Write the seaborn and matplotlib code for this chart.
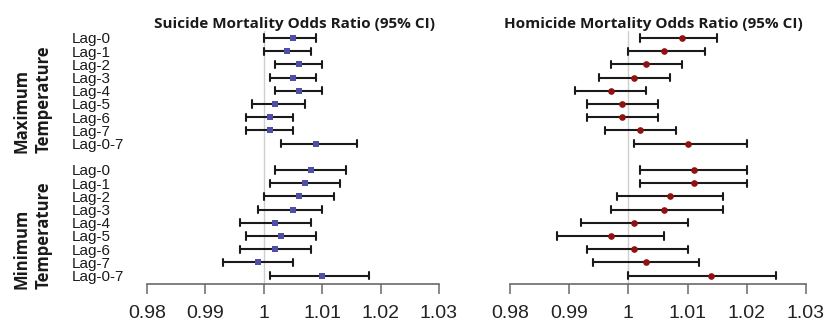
import pandas as pd
import matplotlib
matplotlib.use('Agg')
import matplotlib.pyplot as plt
import seaborn as sns

lags = ['Lag-0', 'Lag-1', 'Lag-2', 'Lag-3', 'Lag-4', 'Lag-5', 'Lag-6', 'Lag-7', 'Lag-0-7']
group_labels = ['Maximum\nTemperature', 'Minimum\nTemperature']
titles = ['Suicide Mortality Odds Ratio (95% CI)', 'Homicide Mortality Odds Ratio (95% CI)']
xticks = [0.98, 0.99, 1.00, 1.01, 1.02, 1.03]
xtick_labels = ['0.98', '0.99', '1', '1.01', '1.02', '1.03']

# odds ratio, lower and upper 95% CI
suicide_max_or = [1.005, 1.004, 1.006, 1.005, 1.006, 1.002, 1.001, 1.001, 1.009]
suicide_max_lo = [1.000, 1.000, 1.002, 1.001, 1.002, 0.998, 0.997, 0.997, 1.003]
suicide_max_hi = [1.009, 1.008, 1.010, 1.009, 1.010, 1.007, 1.005, 1.005, 1.016]
suicide_min_or = [1.008, 1.007, 1.006, 1.005, 1.002, 1.003, 1.002, 0.999, 1.010]
suicide_min_lo = [1.002, 1.001, 1.000, 0.999, 0.996, 0.997, 0.996, 0.993, 1.001]
suicide_min_hi = [1.014, 1.013, 1.012, 1.010, 1.008, 1.009, 1.008, 1.005, 1.018]

homicide_max_or = [1.009, 1.006, 1.003, 1.001, 0.997, 0.999, 0.999, 1.002, 1.010]
homicide_max_lo = [1.002, 1.000, 0.997, 0.995, 0.991, 0.993, 0.993, 0.996, 1.001]
homicide_max_hi = [1.015, 1.013, 1.009, 1.007, 1.003, 1.005, 1.005, 1.008, 1.020]
homicide_min_or = [1.011, 1.011, 1.007, 1.006, 1.001, 0.997, 1.001, 1.003, 1.014]
homicide_min_lo = [1.002, 1.002, 0.998, 0.997, 0.992, 0.988, 0.993, 0.994, 1.000]
homicide_min_hi = [1.020, 1.020, 1.016, 1.016, 1.010, 1.006, 1.010, 1.012, 1.025]

order = ['max ' + l for l in lags] + ['gap'] + ['min ' + l for l in lags]


def long_frame(mx, mn):
    # three values per row (lo, or, hi): median gives the OR, 0-100 pi gives the CI
    rows = []
    for prefix, (est, lo, hi) in zip(['max', 'min'], [mx, mn]):
        for lag, e, l, h in zip(lags, est, lo, hi):
            for v in (l, e, h):
                rows.append({'row': prefix + ' ' + lag, 'OR': v})
    return pd.DataFrame(rows)


suicide = long_frame((suicide_max_or, suicide_max_lo, suicide_max_hi),
                     (suicide_min_or, suicide_min_lo, suicide_min_hi))
homicide = long_frame((homicide_max_or, homicide_max_lo, homicide_max_hi),
                      (homicide_min_or, homicide_min_lo, homicide_min_hi))

sns.set_style('white')
plt.rcParams['font.family'] = ['Liberation Sans', 'DejaVu Sans']

W, H = 828, 323
fig = plt.figure(figsize=(W / 100, H / 100), dpi=100)
top_px, bot_px = 31, 284
ax1 = fig.add_axes([147 / W, (H - bot_px) / H, 292 / W, (bot_px - top_px) / H])
ax2 = fig.add_axes([510 / W, (H - bot_px) / H, 296 / W, (bot_px - top_px) / H])

specs = [(ax1, suicide, 's', '#4f4fa6', 4.4, 0.505), (ax2, homicide, 'o', '#8e1212', 4.8, 0.483)]
for ax, df, mk, col, ms, tx in specs:
    ax.axvline(1.0, color='#cfcfcf', lw=1.0, zorder=0)
    sns.pointplot(data=df, x='OR', y='row', order=order, orient='h',
                  estimator='median', errorbar=('pi', 100),
                  color=col, marker=mk, markersize=ms, markeredgewidth=0,
                  linestyle='none', capsize=0.55,
                  err_kws={'color': '#1a1a1a', 'linewidth': 1.5}, ax=ax)
    for ln in ax.lines:
        if ln.get_marker() not in (None, 'None', '', ' '):
            ln.set_zorder(5)
            ln.set_color(col)
    ax.set_xlim(0.98, 1.03)
    ax.set_ylim(18 + (bot_px - 38 - 18 * 13.2) / 13.2, -(38 - top_px) / 13.2)
    ax.set_xlabel('')
    ax.set_ylabel('')
    for s in ['top', 'right', 'left']:
        ax.spines[s].set_visible(False)
    ax.spines['bottom'].set_color('#6a6a6a')
    ax.spines['bottom'].set_linewidth(1.2)
    ax.set_xticks(xticks)
    ax.set_xticklabels(xtick_labels, fontsize=14, color='#222222')
    ax.tick_params(axis='x', direction='out', length=7, width=1.1, color='#6a6a6a', pad=8, bottom=True)
    ax.set_title(titles[0] if ax is ax1 else titles[1], x=tx, pad=2,
                 fontsize=11, fontweight='bold', family='Open Sans', color='#1a1a1a')

ax1.set_yticks(range(len(order)))
ax1.set_yticklabels(lags + [''] + lags, fontsize=11, color='#1a1a1a')
ax1.tick_params(axis='y', length=0, pad=(147 - 72) * 0.72)
for lab in ax1.get_yticklabels():
    lab.set_horizontalalignment('left')
ax2.set_yticks([])

for lab, y0 in zip(group_labels, [8.7, 19.0]):
    ax1.annotate(lab, xy=(33 / W, y0), xycoords=('figure fraction', 'data'),
                 rotation=90, ha='center', va='bottom', multialignment='left',
                 fontsize=12, fontweight='bold', family='Open Sans',
                 linespacing=1.3, color='#1a1a1a', annotation_clip=False)

fig.savefig('out.png', dpi=100)
